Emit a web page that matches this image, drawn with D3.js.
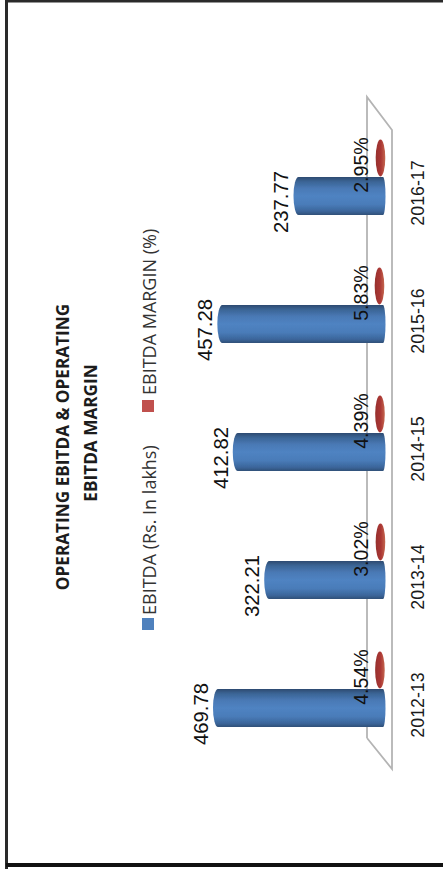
<!DOCTYPE html>
<html><head><meta charset="utf-8">
<script src="https://cdn.jsdelivr.net/npm/d3@7"></script>
<style>html,body{margin:0;padding:0;background:#fff}svg{display:block}</style></head>
<body><svg id="c" width="443" height="869"></svg>
<script>
const categories=["2012-13","2013-14","2014-15","2015-16","2016-17"];
const ebitda=[469.78,322.21,412.82,457.28,237.77];
const margin=[4.54,3.02,4.39,5.83,2.95];
const pctLabels=["4.54%","3.02%","4.39%","5.83%","2.95%"];
const titleLines=["OPERATING EBITDA & OPERATING","EBITDA MARGIN"];
const legendNames=["EBITDA (Rs. In lakhs)","EBITDA MARGIN (%)"];

const svg=d3.select("#c");
const defs=svg.append("defs");
const grad=(id,stops,horizontal)=>{const g=defs.append("linearGradient").attr("id",id).attr("x1",0).attr("x2",horizontal?1:0).attr("y1",0).attr("y2",horizontal?0:1);
 stops.forEach(s=>g.append("stop").attr("offset",s[0]).attr("stop-color",s[1]));};
grad("blue",[[0,"#2d4a70"],[.12,"#3a6495"],[.3,"#4a79b5"],[.5,"#4f83c2"],[.72,"#4a7cb9"],[.9,"#3b669b"],[1,"#2f4f78"]]);
grad("red",[[0,"#96302d"],[.55,"#ab3734"],[1,"#c4664f"]],true);
defs.append("filter").attr("id","soft").append("feGaussianBlur").attr("stdDeviation",.6);

const y=d3.scalePoint().domain(categories).range([708,196]);
const x=d3.scaleLinear().domain([0,500]).range([376,202.5]);
const font="'Liberation Sans',Arial,sans-serif";
const rot=(px,py)=>`translate(${px},${py}) rotate(-90)`;

// frame
svg.append("path").attr("d","M6.5,869V1H443").attr("fill","none").attr("stroke","#2a2a2a").attr("stroke-width",3);
svg.append("line").attr("x1",6).attr("x2",443).attr("y1",865).attr("y2",865).attr("stroke","#111").attr("stroke-width",4);

// floor
const floorTop=y(categories[4])-99, floorBot=y(categories[0])+30;
svg.append("path").attr("fill","none").attr("stroke","#b4b4b4").attr("stroke-width",1.8)
 .attr("filter","url(#soft)")
 .attr("d",`M367,${floorBot}V${floorTop}L392,${floorTop+33}V${floorBot+31}L367,${floorBot}`);

// bars
const barH=38, capW=5;
svg.append("g").attr("filter","url(#soft)").selectAll("path").data(ebitda).join("path")
 .attr("fill","url(#blue)")
 .attr("d",(d,i)=>{const c=y(categories[i]),t=x(d),b=x(0)+7,h=barH/2;
   return `M${b},${c-h}H${t+capW}A${capW},${h} 0 0 0 ${t+capW},${c+h}H${b}A2.5,${h} 0 0 0 ${b},${c-h}Z`;});

// margin ellipses
svg.append("g").attr("filter","url(#soft)").selectAll("ellipse").data(margin).join("ellipse")
 .attr("cx",d=>x(d)+5.5).attr("cy",(d,i)=>y(categories[i])-38).attr("rx",4.8).attr("ry",18.5)
 .attr("fill","url(#red)");

// value labels
svg.append("g").selectAll("text").data(ebitda).join("text")
 .attr("transform",(d,i)=>rot(x(d)-5,y(categories[i])+6))
 .attr("text-anchor","middle").attr("font-family",font).attr("font-size",20.3).attr("fill","#111")
 .text(d=>d3.format(".2f")(d));
svg.append("g").selectAll("text").data(pctLabels).join("text")
 .attr("transform",(d,i)=>rot(368,y(categories[i])-31))
 .attr("text-anchor","middle").attr("font-family",font).attr("font-size",19.6).attr("fill","#111")
 .text(d=>d);

// category axis
const ax=svg.append("g").attr("transform","translate(424,0)").call(d3.axisRight(y).tickSize(0).tickPadding(0));
ax.select(".domain").remove();
ax.selectAll(".tick").attr("transform","translate(0,0)");
ax.selectAll("text").attr("x",0).attr("y",0).attr("dy",0).attr("text-anchor","middle")
 .attr("font-family",font).attr("font-size",17.8).attr("fill","#1a1a1a")
 .attr("transform",d=>rot(0,y(d)-3));

// title
const tfont="'Open Sans',sans-serif";
[[69,447],[97,433]].forEach((p,i)=>svg.append("text").attr("transform",rot(p[0],p[1]))
 .attr("text-anchor","middle").attr("font-family",tfont).attr("font-weight",700).attr("font-size",17.2).attr("fill","#1c1c1c").text(titleLines[i]));

// legend
svg.append("rect").attr("x",142).attr("y",618).attr("width",12).attr("height",12).attr("fill","#4f81bd");
svg.append("rect").attr("x",142).attr("y",400).attr("width",12).attr("height",12).attr("fill","#c0504d");
svg.append("text").attr("transform",rot(156,615)).attr("font-family",tfont).attr("font-size",18).attr("fill","#333").text(legendNames[0]);
svg.append("text").attr("transform",rot(156,395)).attr("font-family",tfont).attr("font-size",18).attr("fill","#333").text(legendNames[1]);
</script></body></html>
